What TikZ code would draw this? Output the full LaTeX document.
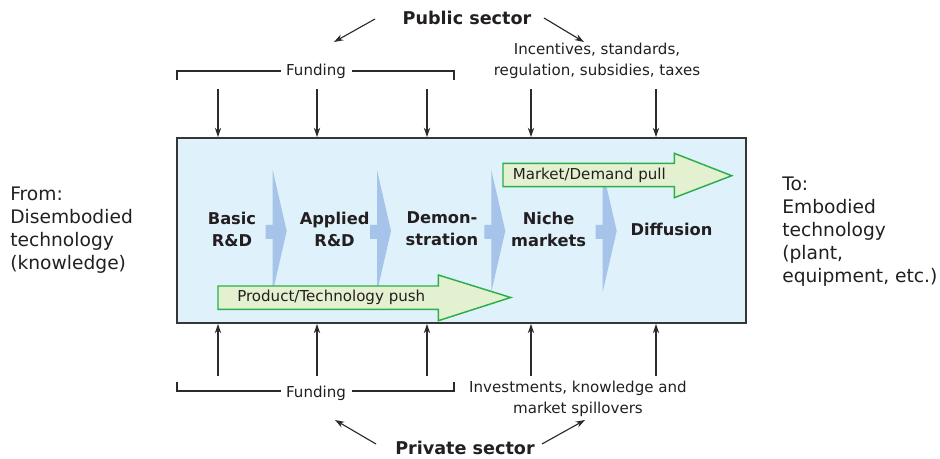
\documentclass[tikz,border=0pt]{standalone}
\usepackage{fontspec}
\setmainfont{DejaVu Sans}
\usetikzlibrary{arrows.meta,calc}
\definecolor{txt}{HTML}{231F20}
\definecolor{lin}{HTML}{2B2B2B}
\definecolor{boxfill}{HTML}{DFF1FA}
\definecolor{boxline}{HTML}{363636}
\definecolor{chev}{HTML}{A6C4EA}
\definecolor{gfill}{HTML}{E4F1D0}
\definecolor{gline}{HTML}{2BAF4A}
\begin{document}
\begin{tikzpicture}[x=0.75pt,y=-0.75pt,
  every node/.style={text=txt, inner sep=0pt},
  lbl/.style={font=\fontsize{11.3}{15.75}\selectfont, align=center},
  big/.style={font=\fontsize{14}{17.25}\selectfont, align=left},
  stage/.style={font=\bfseries\fontsize{12.2}{16.5}\selectfont, align=center},
  sector/.style={font=\bfseries\fontsize{13.2}{15}\selectfont},
  conn/.style={draw=lin, line width=0.85pt, -{Stealth[length=7pt,width=4.8pt]}},
  brk/.style={draw=lin, line width=0.8pt},
  chevfill/.style={fill=chev},
  greenarrow/.style={draw=gline, fill=gfill, line width=1.1pt, line join=miter},
  stagechev/.pic={\fill[chevfill] (0,-61) -- (14,0) -- (0,61) -- (0,8) -- (-7,8) -- (-7,-6) -- (0,-6) -- cycle;}
]
\useasboundingbox (0,0) rectangle (940,459);

% main box
\node[draw=boxline, fill=boxfill, line width=1.5pt, minimum width=426.75pt, minimum height=138.75pt] (box) at (461.5,230.5) {};

% chevrons
\pic at (272.7,231) {stagechev};
\pic at (377,231) {stagechev};
\pic at (491.3,231) {stagechev};
\pic at (602.7,231) {stagechev};

% green arrows
\draw[greenarrow] (218,286) -- (438.3,286) -- (438.3,275) -- (510.7,297.5) -- (438.3,320.7) -- (438.3,309.3) -- (218,309.3) -- cycle;
\draw[greenarrow] (503,163.3) -- (674.3,163.3) -- (674.3,153.3) -- (731.7,175.7) -- (674.3,197.7) -- (674.3,186.7) -- (503,186.7) -- cycle;
\node[lbl, anchor=west] (push) at (237,297.5) {Product/Technology push};
\node[lbl, anchor=west] (pull) at (512.5,175.5) {Market/Demand pull};

% stages
\node[stage] (basic) at (232,229) {Basic\\R\&D};
\node[stage] (applied) at (334.6,229) {Applied\\R\&D};
\node[stage] (demo) at (442,229) {Demon-\\stration};
\node[stage] (niche) at (548.6,229) {Niche\\markets};
\node[stage] (diff) at (671.5,229) {Diffusion};

% side texts
\node[big, anchor=west] (from) at (10,230.5) {From:\\Disembodied\\technology\\(knowledge)};
\node[big, anchor=west] (to) at (782,232) {To:\\Embodied\\technology\\(plant,\\equipment, etc.)};

% sectors
\node[sector] (pub) at (467,18) {Public sector};
\node[sector] (priv) at (465,448) {Private sector};

% top labels
\node[lbl] (fundT) at (316,71) {Funding};
\node[lbl] (incent) at (597,60.5) {Incentives, standards,\\regulation, subsidies, taxes};
\coordinate (tl) at (177,71);
\coordinate (tr) at (454,71);
\draw[brk] ($(tl)+(0,9)$) -- (tl) -- ([xshift=-4pt]fundT.west |- tl);
\draw[brk] ($(tr)+(0,9)$) -- (tr) -- ([xshift=4pt]fundT.east |- tr);

% bottom labels
\node[lbl] (fundB) at (316,393) {Funding};
\node[lbl] (invest) at (578,398.5) {Investments, knowledge and\\market spillovers};
\coordinate (bl) at (177,391);
\coordinate (br) at (454,391);
\draw[brk] ($(bl)+(0,-9)$) -- (bl) -- ([xshift=-4pt]fundB.west |- bl);
\draw[brk] ($(br)+(0,-9)$) -- (br) -- ([xshift=4pt]fundB.east |- br);

% sector arrows
\coordinate (pubL) at (375,19);
\coordinate (pubLe) at (334,42);
\coordinate (pubR) at (544,18);
\coordinate (pubRe) at (584,42);
\draw[conn] (pubL) -- (pubLe);
\draw[conn] (pubR) -- (pubRe);
\coordinate (privL) at (376,444);
\coordinate (privLe) at (335,420);
\coordinate (privR) at (542,444);
\coordinate (privRe) at (585,420);
\draw[conn] (privL) -- (privLe);
\draw[conn] (privR) -- (privRe);

% vertical arrows
\foreach \i/\x in {1/218,2/317,3/427,4/531,5/656}{
  \coordinate (top\i) at (\x,89);
  \coordinate (bot\i) at (\x,376);
  \draw[conn] (top\i) -- (top\i |- box.north);
  \draw[conn] (bot\i) -- (bot\i |- box.south);
}
\end{tikzpicture}
\end{document}
